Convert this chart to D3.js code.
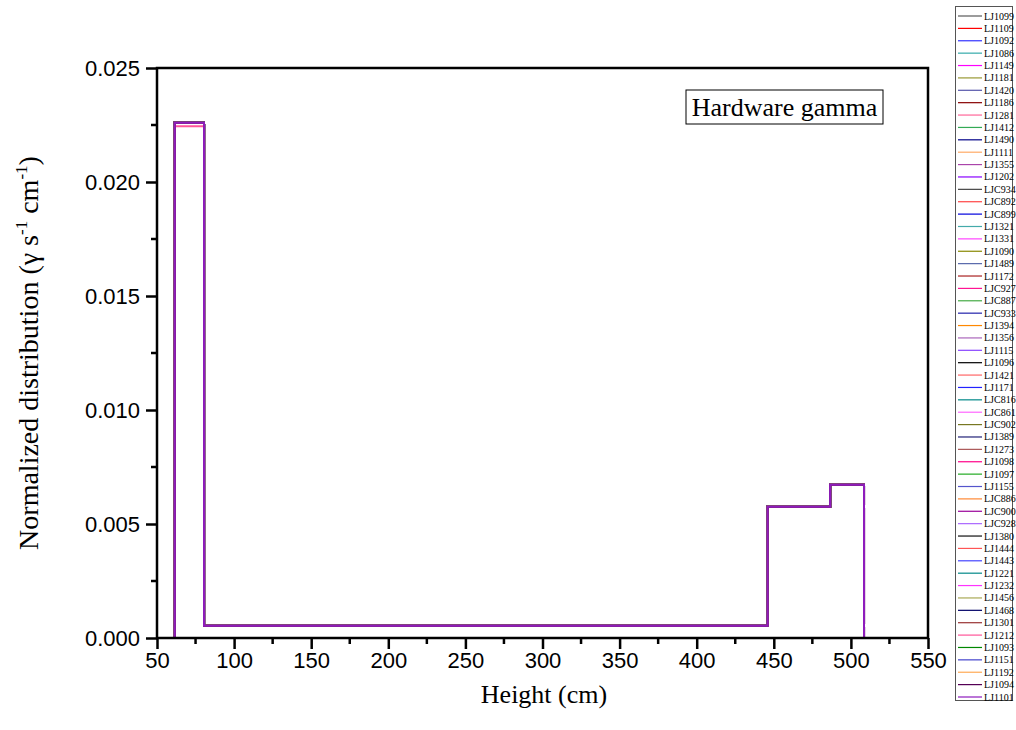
<!DOCTYPE html>
<html>
<head>
<meta charset="utf-8">
<script src="https://cdn.jsdelivr.net/npm/d3@7"></script>
<style>
  body { margin: 0; background: #fff; }
  svg { display: block; }
</style>
</head>
<body>
<svg id="chart" width="1016" height="730"></svg>
<script>
// bin edges (cm) and normalized distribution per bin
var binEdges = [61.5, 80.5, 446, 486.5, 508.5];
var binValues = [0.0226, 0.00054, 0.00576, 0.00672];

var seriesNames = ["LJ1099","LJ1109","LJ1092","LJ1086","LJ1149","LJ1181","LJ1420","LJ1186","LJ1281","LJ1412",
  "LJ1490","LJ1111","LJ1355","LJ1202","LJC934","LJC892","LJC899","LJ1321","LJ1331","LJ1090",
  "LJ1489","LJ1172","LJC927","LJC887","LJC933","LJ1394","LJ1356","LJ1115","LJ1096","LJ1421",
  "LJ1171","LJC816","LJC861","LJC902","LJ1389","LJ1273","LJ1098","LJ1097","LJ1155","LJC886",
  "LJC900","LJC928","LJ1380","LJ1444","LJ1443","LJ1221","LJ1232","LJ1456","LJ1468","LJ1301",
  "LJ1212","LJ1093","LJ1151","LJ1192","LJ1094","LJ1101"];
var seriesColors = ["#5a5a5a","#ff0000","#3333ff","#33aaaa","#ff00ff","#999933","#5555aa","#880000","#ff6699","#33aa55",
  "#000088","#ffaa66","#aa44aa","#8800ff","#444444","#ff4444","#0000dd","#44aaaa","#ff44ff","#888800",
  "#5566aa","#aa2222","#ff1493","#44aa44","#2222aa","#ff8800","#aa66bb","#8844ff","#000000","#ff6666",
  "#2222ff","#008888","#ff66ff","#777722","#222277","#aa5555","#ff0088","#22aa22","#5555cc","#ff8833",
  "#990099","#aa66ff","#111111","#ff5555","#4444ff","#008888","#ff33ff","#aaaa55","#000066","#993333",
  "#ff5599","#008800","#4444cc","#ffaa55","#550055","#8e1cbc"];
// the pink trace peaks a little lower than the rest
var peakOverrides = {"LJ1212": 0.02245};

var xTicks = [50,100,150,200,250,300,350,400,450,500,550];
var yTicks = [0,0.005,0.010,0.015,0.020,0.025];

var svg = d3.select("#chart");
var x = d3.scaleLinear().domain([50,550]).range([157,928]);
var y = d3.scaleLinear().domain([0,0.025]).range([638,68]);

function stepPoints(vals) {
  var pts = [[binEdges[0], 0]];
  vals.forEach(function(v, i) {
    pts.push([binEdges[i], v]);
    pts.push([binEdges[i+1], v]);
  });
  pts.push([binEdges[binEdges.length-1], 0]);
  return pts;
}

var line = d3.line().x(d=>x(d[0])).y(d=>y(d[1]));

svg.append("g").selectAll("path")
  .data(seriesNames)
  .enter()
  .append("path")
  .attr("d", function(n) {
    var vals = binValues.slice();
    if (peakOverrides[n] !== undefined) vals[0] = peakOverrides[n];
    return line(stepPoints(vals));
  })
  .attr("fill", "none")
  .attr("stroke", (n,i)=>seriesColors[i])
  .attr("stroke-width", 2);

// axes
var xAxis = d3.axisBottom(x).tickValues(xTicks).tickSize(11).tickPadding(3).tickFormat(d3.format("d"));
var gx = svg.append("g").attr("transform", "translate(0,638)").call(xAxis);
var yAxis = d3.axisLeft(y).tickValues(yTicks).tickSize(11).tickPadding(6).tickFormat(d3.format(".3f"));
var gy = svg.append("g").attr("transform", "translate(157,0)").call(yAxis);

[gx, gy].forEach(function(g) {
  g.select(".domain").remove();
  g.selectAll("line").attr("stroke", "#000").attr("stroke-width", 2.5);
  g.selectAll("text").attr("fill", "#000")
    .style("font-family", "'Liberation Sans', Arial, sans-serif").style("font-size", "22px");
});

// minor ticks
var xMinor = d3.range(75, 550, 50);
svg.append("g").selectAll("line").data(xMinor).enter().append("line")
  .attr("x1", d=>x(d)).attr("x2", d=>x(d)).attr("y1", 638).attr("y2", 644)
  .attr("stroke", "#000").attr("stroke-width", 2.5);
var yMinor = [0.0025,0.0075,0.0125,0.0175,0.0225];
svg.append("g").selectAll("line").data(yMinor).enter().append("line")
  .attr("y1", d=>y(d)).attr("y2", d=>y(d)).attr("x1", 151).attr("x2", 157)
  .attr("stroke", "#000").attr("stroke-width", 2.5);

// frame
svg.append("rect")
  .attr("x", 157).attr("y", 68).attr("width", 928-157).attr("height", 638-68)
  .attr("fill", "none").attr("stroke", "#000").attr("stroke-width", 2.5);

// axis titles
svg.append("text")
  .attr("x", 544).attr("y", 703)
  .attr("text-anchor", "middle")
  .style("font-family", "'Liberation Serif', 'Times New Roman', serif").style("font-size", "26px")
  .text("Height (cm)");

var yt = svg.append("text")
  .attr("transform", "translate(38,353) rotate(-90)")
  .attr("text-anchor", "middle")
  .style("font-family", "'Liberation Serif', 'Times New Roman', serif").style("font-size", "28px");
yt.append("tspan").text("Normalized distribution (\u03b3 s");
yt.append("tspan").attr("dy", -11).style("font-size", "17px").text("-1");
yt.append("tspan").attr("dy", 11).text(" cm");
yt.append("tspan").attr("dy", -11).style("font-size", "17px").text("-1");
yt.append("tspan").attr("dy", 11).text(")");

// annotation box
svg.append("rect")
  .attr("x", 686).attr("y", 90).attr("width", 197).attr("height", 34)
  .attr("fill", "#fff").attr("stroke", "#000").attr("stroke-width", 1);
svg.append("text")
  .attr("x", 784.5).attr("y", 116)
  .attr("text-anchor", "middle")
  .style("font-family", "'Liberation Serif', 'Times New Roman', serif").style("font-size", "26px")
  .text("Hardware gamma");

// legend
var legend = svg.append("g");
legend.append("rect")
  .attr("x", 955.5).attr("y", 6.5).attr("width", 57).attr("height", 694)
  .attr("fill", "#fff").attr("stroke", "#555").attr("stroke-width", 1);
var rowY = d3.scaleLinear().domain([0, seriesNames.length-1]).range([16, 697]);
var items = legend.selectAll(".item").data(seriesNames).enter().append("g")
  .attr("transform", (n,i)=>"translate(0," + rowY(i) + ")");
items.append("line")
  .attr("x1", 958).attr("x2", 982).attr("y1", 0).attr("y2", 0)
  .attr("stroke", (n,i)=>seriesColors[i]).attr("stroke-width", 1.2);
items.append("text")
  .attr("x", 984).attr("y", 3.5)
  .style("font-family", "'Liberation Serif', 'Times New Roman', serif").style("font-size", "10px")
  .text(n=>n);
</script>
</body>
</html>
